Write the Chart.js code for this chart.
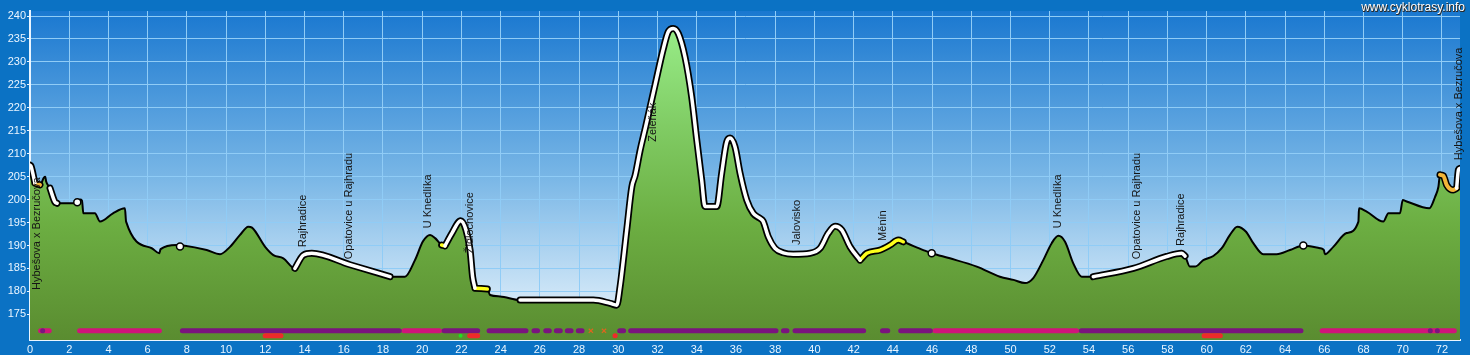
<!DOCTYPE html>
<html>
<head>
<meta charset="utf-8">
<script src="https://cdn.jsdelivr.net/npm/chart.js@4.4.1/dist/chart.umd.min.js"></script>
<style>
html,body{margin:0;padding:0;background:#0b72c4;}
#wrap{width:1470px;height:355px;}
</style>
</head>
<body>
<div id="wrap"><canvas id="c" width="1470" height="355"></canvas></div>
<script>
// ---- data ----
const distanceKm = [0.00,0.05,0.25,0.51,0.71,0.78,0.82,1.02,1.27,1.38,2.29,2.55,2.65,2.72,3.31,3.57,4.23,4.84,4.90,6.21,6.59,6.66,7.48,7.82,9.01,9.69,10.20,10.71,11.13,11.32,11.99,12.41,12.92,13.51,13.94,14.37,16.32,18.36,19.12,19.63,20.04,20.40,20.66,20.99,21.16,21.52,21.96,22.23,22.44,22.57,22.69,23.32,23.46,23.97,24.99,28.73,29.58,29.92,30.09,30.43,30.69,30.86,31.11,31.40,31.87,32.29,32.55,32.80,33.06,33.40,33.74,34.00,34.25,34.42,35.02,35.27,35.53,35.70,35.95,36.21,36.55,36.88,37.23,37.38,37.65,37.99,38.41,38.92,39.78,40.29,40.71,41.05,41.39,41.82,42.33,42.67,43.35,43.86,44.28,44.53,45.55,45.98,46.91,48.28,49.46,50.15,50.74,51.16,51.67,52.10,52.44,52.78,53.20,53.63,54.22,56.26,57.96,58.73,58.90,59.15,59.41,59.83,60.34,60.77,61.19,61.56,62.01,62.38,62.89,63.57,64.25,64.93,65.78,65.98,66.03,66.46,67.14,67.74,67.77,68.16,69.01,69.27,69.86,70.00,70.20,71.36,71.65,71.82,71.90,72.07,72.24,72.58,72.75,72.84,72.92];
const elevationM = [207.5,207.3,203.6,203.2,204.8,205.0,204.0,202.5,199.5,199.2,199.2,200.0,199.8,197.0,197.0,195.2,197.0,198.1,195.2,189.4,188.3,189.2,190.1,190.0,189.0,188.1,189.7,192.3,194.1,193.9,189.7,187.9,187.2,185.0,187.9,188.3,185.8,183.2,183.2,186.8,190.9,192.3,191.6,190.1,189.9,192.7,195.4,193.4,189.0,183.2,180.7,180.5,179.2,178.9,178.1,178.1,177.4,177.0,181.0,193.4,202.8,205.3,210.7,216.0,224.9,232.8,236.6,237.3,236.2,231.1,222.4,213.0,204.3,198.5,198.5,205.7,212.6,213.4,211.5,205.7,199.9,197.0,195.9,195.3,191.9,189.4,188.4,188.1,188.3,189.4,192.7,194.2,193.4,189.7,186.8,188.3,189.0,190.1,191.2,190.8,189.0,188.3,187.2,185.4,183.2,182.5,181.8,182.9,186.8,190.5,192.1,190.8,186.1,183.2,183.2,185.0,187.6,188.3,187.7,185.4,185.4,186.8,187.7,189.4,192.3,194.1,193.0,190.5,188.1,188.1,189.0,190.0,189.4,189.0,188.1,189.7,192.7,195.2,198.1,197.4,195.2,197.0,197.0,199.9,199.6,198.1,200.6,202.8,205.4,205.2,203.2,202.1,202.5,206.5,206.8];

const xTickValues = [0,2,4,6,8,10,12,14,16,18,20,22,24,26,28,30,32,34,36,38,40,42,44,46,48,50,52,54,56,58,60,62,64,66,68,70,72];
const yTickValues = [175,180,185,190,195,200,205,210,215,220,225,230,235,240];

// route segments on the profile (km ranges)
const routeWhite  = [[0.00,0.25],[1.02,1.38],[13.51,18.36],[21.16,22.69],[24.99,42.33],[54.22,58.90],[72.75,72.92]];
const routeYellow = [[20.99,21.16],[22.69,23.32],[42.33,44.53]];
const routeOrange = [[0.25,0.51],[71.90,72.75]];

// waypoint dots
const waypointKm  = [2.41,7.65,45.98,64.93];
const waypointAlt = [199.4,189.8,188.3,190.0];

// place labels
const placeNames = ["Hybešova x Bezručova","Rajhradice","Opatovice u Rajhradu","U Knedlíka","Židlochovice","Zeleňák","Jalovisko","Měnín","U Knedlíka","Opatovice u Rajhradu","Rajhradice","Hybešova x Bezručova"];
const placeKm    = [0.38,13.91,16.26,20.30,22.45,31.77,39.10,43.50,52.41,56.43,58.68,72.88];
const placeAlt   = [180.3,189.6,187.0,193.75,188.3,212.6,190.1,191.0,193.75,187.0,189.9,208.6];

// surface strips (km ranges)
const surfacePink   = [[0.42,1.10],[2.41,6.72],[18.95,21.00],[46.03,53.49],[65.77,72.75]];
const surfacePurple = [[0.60,0.70],[7.65,18.95],[21.00,22.95],[23.29,25.41],[25.58,26.00],[26.18,26.60],[26.72,27.16],[27.28,27.71],[27.84,28.27],[29.95,30.39],[30.51,38.16],[38.30,38.72],[38.89,42.63],[43.35,43.86],[44.28,46.03],[53.49,64.93],[71.38,71.44],[71.74,71.80]];
const surfaceRed    = [[11.87,12.92],[22.30,22.95],[29.75,29.92],[59.75,60.82]];
const surfaceGreen  = [[21.90,22.02]];
const crossKm       = [28.60,29.27];

// ---- helpers ----
const profile = distanceKm.map((k,i)=>({x:k,y:elevationM[i]}));
function pickRanges(ranges){
  const out=[];
  ranges.forEach(([a,b])=>{
    profile.forEach(p=>{ if(p.x>=a-1e-9 && p.x<=b+1e-9) out.push({x:p.x,y:p.y}); });
    out.push({x:b+0.0001,y:null});
  });
  return out;
}
const STRIP1 = 171.4, STRIP2 = 170.3;
const CAP_KM = 0.12; // round cap allowance
function stripData(ranges,yv){
  const out=[];
  ranges.forEach(([a,b])=>{
    let s=a+CAP_KM, e=b-CAP_KM;
    if(e<=s){ const m=(a+b)/2; s=m-0.005; e=m+0.005; }
    out.push({x:s,y:yv}); out.push({x:e,y:yv}); out.push({x:e+0.0001,y:null});
  });
  return out;
}

const borderAll = pickRanges([...routeWhite,...routeYellow,...routeOrange].sort((p,q)=>p[0]-q[0]));

function stripDs(ranges,yv,color,w,order){
  return {type:'line',data:stripData(ranges,yv),borderColor:color,borderWidth:w,borderCapStyle:'round',pointRadius:0,spanGaps:false,fill:false,order:order,tension:0};
}

const bgPlugin = {
  id:'bg',
  beforeDraw(chart){
    const {ctx,chartArea:a,width,height} = chart;
    ctx.save();
    ctx.fillStyle='#0b72c4';
    ctx.fillRect(0,0,width,height);
    const g = ctx.createLinearGradient(0,a.top,0,a.bottom);
    g.addColorStop(0,'#1a78d0');
    g.addColorStop(0.5,'#78b6e6');
    g.addColorStop(1,'#eef7fd');
    ctx.fillStyle=g;
    ctx.fillRect(a.left,a.top,a.right-a.left,a.bottom-a.top);
    ctx.restore();
  }
};

const labelPlugin = {
  id:'labels',
  afterDatasetsDraw(chart){
    const {ctx,scales:{x,y}} = chart;
    ctx.save();
    ctx.font='11px "Liberation Sans", Arial, sans-serif';
    ctx.fillStyle='#151515';
    ctx.textAlign='left';
    ctx.textBaseline='middle';
    placeNames.forEach((t,i)=>{
      const px=x.getPixelForValue(placeKm[i]);
      const py=y.getPixelForValue(placeAlt[i]);
      ctx.save();
      ctx.translate(px,py);
      ctx.rotate(-Math.PI/2);
      ctx.fillText(t,0,0);
      ctx.restore();
    });
    ctx.restore();
  },
  afterDraw(chart){
    const {ctx} = chart;
    ctx.save();
    ctx.font='12px "Liberation Sans", Arial, sans-serif';
    ctx.textAlign='right';
    ctx.textBaseline='middle';
    ctx.fillStyle='#2a2a2a';
    ctx.fillText('www.cyklotrasy.info',1466,9);
    ctx.fillText('www.cyklotrasy.info',1465,9);
    ctx.fillStyle='#ffffff';
    ctx.fillText('www.cyklotrasy.info',1465,8);
    ctx.restore();
  }
};

const tickFont = {family:'"Liberation Sans", Arial, sans-serif', size:11};

new Chart(document.getElementById('c'),{
  type:'line',
  data:{
    datasets:[
      {
        label:'profile',
        data:profile,
        borderColor:'#000',
        borderWidth:2,
        pointRadius:0,
        cubicInterpolationMode:'monotone',
        fill:'start',
        order:20,
        backgroundColor(ctx){
          const a=ctx.chart.chartArea; if(!a) return '#6cae40';
          const g=ctx.chart.ctx.createLinearGradient(0,a.top,0,a.bottom);
          g.addColorStop(0,'#9cf28e');
          g.addColorStop(0.35,'#80cc64');
          g.addColorStop(0.65,'#6cae42');
          g.addColorStop(1,'#5a8c30');
          return g;
        }
      },
      {label:'routeBorder',data:borderAll,borderColor:'#000',borderWidth:7,borderCapStyle:'round',borderJoinStyle:'round',pointRadius:0,spanGaps:false,fill:false,cubicInterpolationMode:'monotone',order:15},
      {label:'routeWhite',data:pickRanges(routeWhite),borderColor:'#ffffff',borderWidth:3.5,borderCapStyle:'round',borderJoinStyle:'round',pointRadius:0,spanGaps:false,fill:false,cubicInterpolationMode:'monotone',order:14},
      {label:'routeYellow',data:pickRanges(routeYellow),borderColor:'#ffff1a',borderWidth:3.5,borderCapStyle:'round',borderJoinStyle:'round',pointRadius:0,spanGaps:false,fill:false,cubicInterpolationMode:'monotone',order:14},
      {label:'routeOrange',data:pickRanges(routeOrange),borderColor:'#f2b538',borderWidth:4,borderCapStyle:'round',borderJoinStyle:'round',pointRadius:0,spanGaps:false,fill:false,cubicInterpolationMode:'monotone',order:14},
      {label:'waypoints',data:waypointKm.map((k,i)=>({x:k,y:waypointAlt[i]})),showLine:false,pointRadius:3.5,pointBackgroundColor:'#fff',pointBorderColor:'#000',pointBorderWidth:1.5,order:13},
      stripDs(surfacePink,STRIP1,'#d0147a',5,5),
      stripDs(surfacePurple,STRIP1,'#7a147e',5,4),
      stripDs(surfaceRed,STRIP2,'#ee2a2a',5,3),
      stripDs(surfaceGreen,STRIP2,'#22dd22',4,2),
      {label:'cross',data:crossKm.map(k=>({x:k,y:STRIP1})),showLine:false,pointStyle:'crossRot',pointRadius:3,pointBorderColor:'#e0641e',pointBorderWidth:1.2,order:1}
    ]
  },
  options:{
    responsive:false,
    animation:false,
    devicePixelRatio:1,
    events:[],
    layout:{padding:{top:11,right:10,left:0,bottom:0}},
    plugins:{legend:{display:false},tooltip:{enabled:false}},
    scales:{
      x:{
        type:'linear',min:0,max:72.92,
        afterBuildTicks(s){ s.ticks = xTickValues.map(v=>({value:v})); },
        afterFit(s){ s.height=15; },
        grid:{color:'#90ccf6',lineWidth:1,drawTicks:false},
        border:{color:'#eaf5ff',width:2},
        ticks:{color:'#eaf5ff',font:tickFont,padding:3,maxRotation:0,autoSkip:false}
      },
      y:{
        type:'linear',min:169.4,max:241.1,
        afterBuildTicks(s){ s.ticks = yTickValues.map(v=>({value:v})); },
        afterFit(s){ s.width=30; },
        grid:{color:'#90ccf6',lineWidth:1,tickLength:3,tickColor:'#eaf5ff'},
        border:{color:'#eaf5ff',width:2},
        ticks:{color:'#eaf5ff',font:tickFont,padding:1}
      }
    }
  },
  plugins:[bgPlugin,labelPlugin]
});
</script>
</body>
</html>
